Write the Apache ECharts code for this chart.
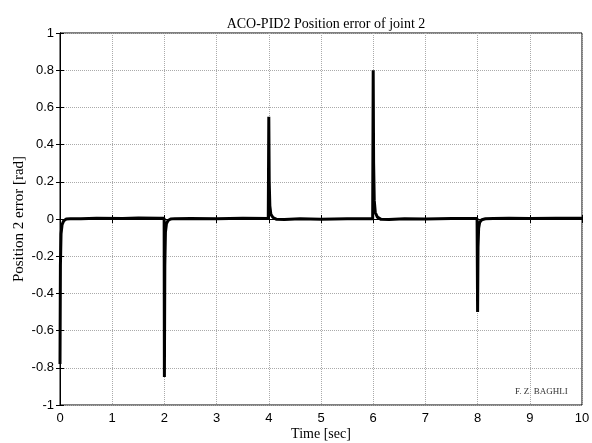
<!DOCTYPE html>
<html>
<head>
<meta charset="utf-8">
<script src="https://cdn.jsdelivr.net/npm/echarts@6/dist/echarts.min.js"></script>
<style>html,body{margin:0;padding:0;background:#fff;}#c{width:592px;height:443px;}</style>
</head>
<body>
<div id="c"></div>
<script>
var titleText = 'ACO-PID2 Position error of joint 2';
var xName = 'Time [sec]';
var yName = 'Position 2 error [rad]';
var note = 'F. Z. BAGHLI';
var times = [0, 0.008, 0.02, 0.04, 0.07, 0.12, 0.2, 0.4, 0.7, 1.2, 1.5, 1.9, 1.995,
  2.0, 2.008, 2.02, 2.04, 2.07, 2.12, 2.2, 2.5, 3.0, 3.5, 3.99,
  4.0, 4.008, 4.02, 4.04, 4.08, 4.15, 4.3, 4.6, 5.0, 5.5, 5.99,
  6.0, 6.008, 6.02, 6.04, 6.08, 6.15, 6.3, 6.6, 7.0, 7.5, 7.99,
  8.0, 8.008, 8.02, 8.04, 8.08, 8.15, 8.3, 8.6, 9.0, 9.5, 10.0];
var values = [-0.78, -0.25, -0.08, -0.03, -0.01, 0, 0.001, 0.002, 0.004, 0.003, 0.005, 0.004, 0.004,
  -0.85, -0.25, -0.07, -0.025, -0.008, 0, 0.002, 0.003, 0.002, 0.004, 0.003,
  0.55, 0.2, 0.07, 0.025, 0.008, -0.002, -0.003, 0.001, -0.001, 0.002, 0.002,
  0.80, 0.3, 0.1, 0.035, 0.01, -0.002, -0.003, 0.002, 0.0, 0.003, 0.003,
  -0.50, -0.15, -0.05, -0.018, -0.004, 0.001, 0.003, 0.004, 0.003, 0.004, 0.004];

var data = times.map(function(t,i){return [t, values[i]];});
var gridLine = {show:true, lineStyle:{color:'#aaa', type:[1,1], width:1}};
var chart = echarts.init(document.getElementById('c'));
chart.setOption({
  animation:false,
  backgroundColor:'#fff',
  title:{text:titleText, left:321, top:12, textAlign:'center',
    textStyle:{fontFamily:'Liberation Serif', fontSize:14, fontWeight:'normal', color:'#000'}},
  grid:{left:60, right:10, top:33, bottom:38, show:true, borderColor:'#000', borderWidth:1,
    containLabel:false, outerBoundsMode:'none'},
  xAxis:[{type:'value', min:0, max:10, interval:1, position:'bottom',
    name:xName, nameLocation:'middle', nameGap:22, nameMoveOverlap:false,
    nameTextStyle:{fontFamily:'Liberation Serif', fontSize:14, color:'#000'},
    axisLine:{show:true, lineStyle:{color:'#000', width:1}},
    axisTick:{show:true, inside:true, length:4, lineStyle:{color:'#000'}},
    axisLabel:{fontFamily:'Liberation Sans', fontSize:13, color:'#000', margin:7},
    splitLine:gridLine},
   {type:'value', min:0, max:10, interval:1, position:'top',
    axisLine:{show:true, lineStyle:{color:'#000'}},
    axisTick:{show:true, inside:true, length:4, lineStyle:{color:'#000'}},
    axisLabel:{show:false}, splitLine:{show:false}}],
  yAxis:[{type:'value', min:-1, max:1, interval:0.2, position:'left',
    name:yName, nameLocation:'middle', nameGap:33, nameRotate:90, nameMoveOverlap:false,
    nameTextStyle:{fontFamily:'Liberation Serif', fontSize:15, color:'#000'},
    axisLine:{show:true, lineStyle:{color:'#000'}},
    axisTick:{show:true, inside:true, length:4, lineStyle:{color:'#000'}},
    axisLabel:{fontFamily:'Liberation Sans', fontSize:13, color:'#000', margin:6,
      formatter:function(v){return String(Math.round(v*10)/10);}},
    splitLine:gridLine},
   {type:'value', min:-1, max:1, interval:0.2, position:'right',
    axisLine:{show:true, lineStyle:{color:'#000'}},
    axisTick:{show:true, inside:true, length:4, lineStyle:{color:'#000'}},
    axisLabel:{show:false}, splitLine:{show:false}}],
  graphic:[{type:'text', left:515, top:387,
    style:{text:note, font:'9px "Liberation Serif"', fill:'#333'}}],
  series:[{type:'line', data:data, showSymbol:false, xAxisIndex:0, yAxisIndex:0,
    lineStyle:{color:'#000', width:3}}]
});
</script>
</body>
</html>
